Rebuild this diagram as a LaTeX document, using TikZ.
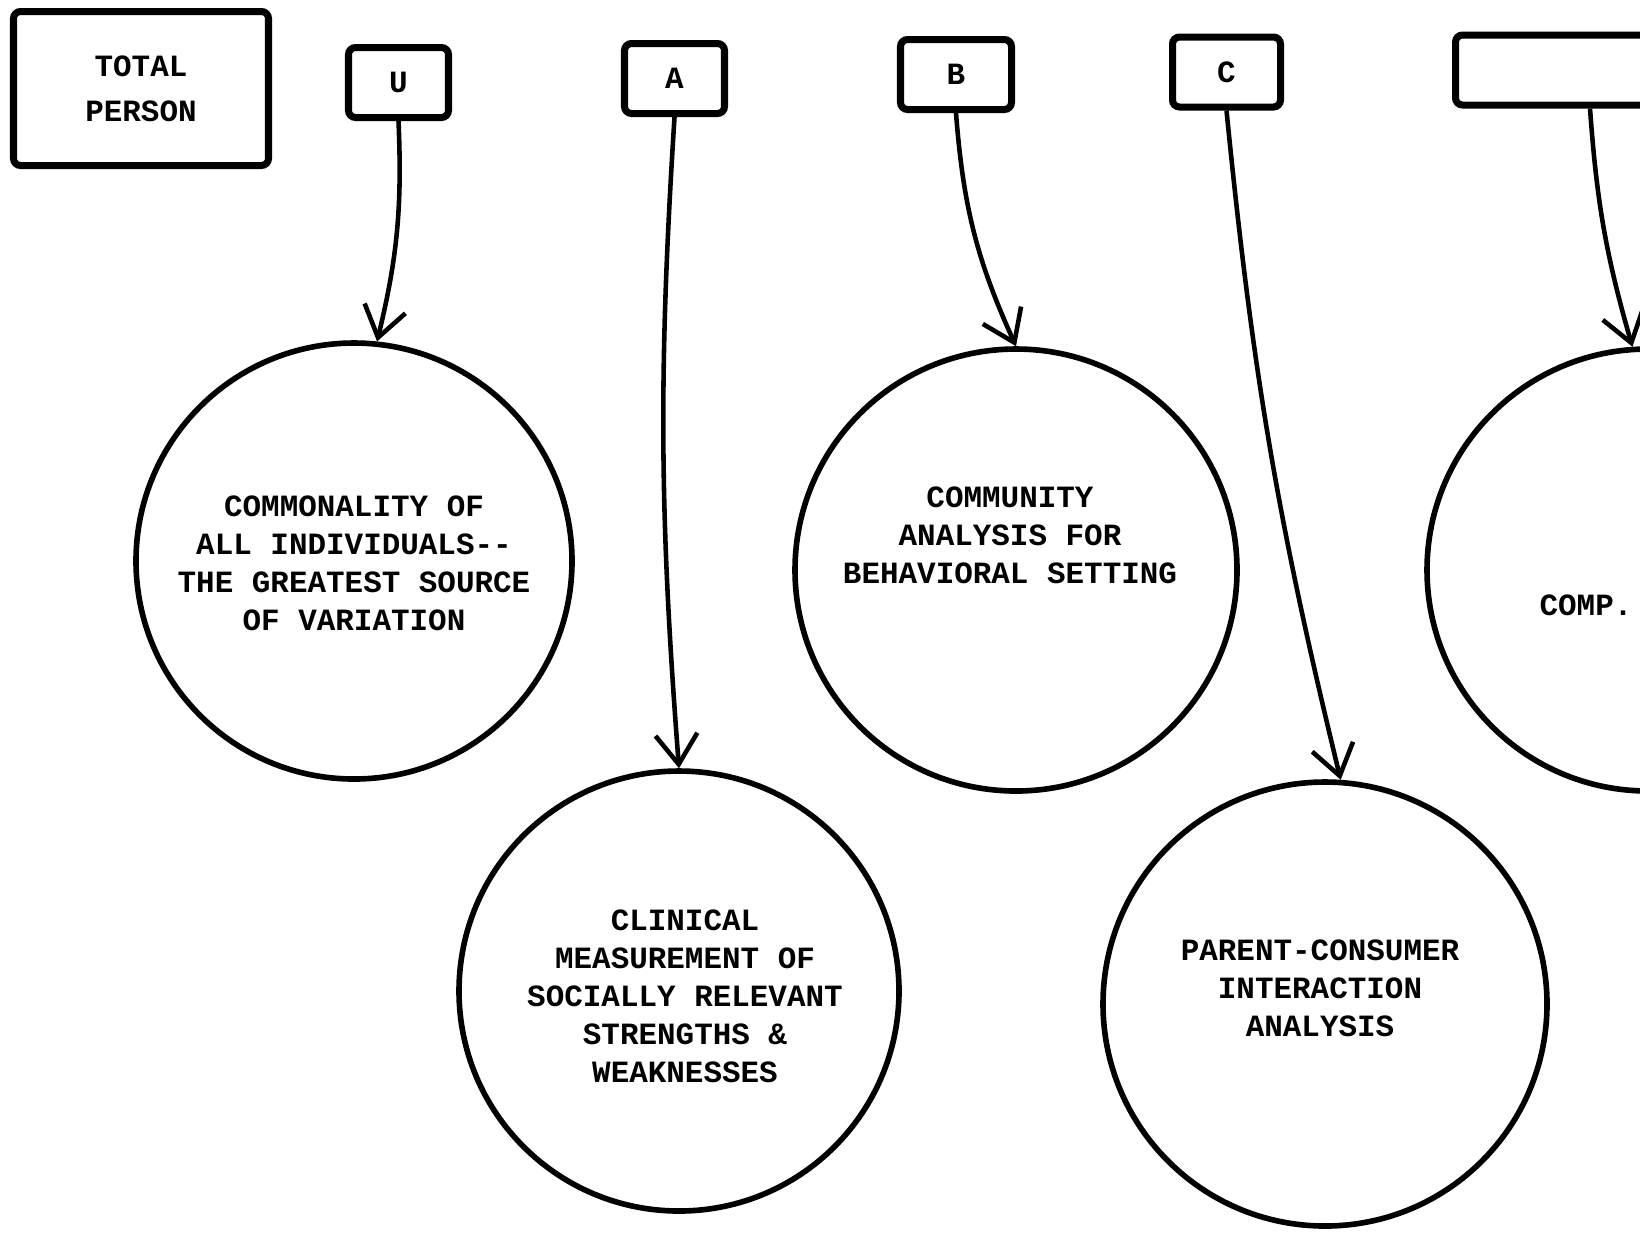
\documentclass[tikz,border=0pt]{standalone}
\usepackage{fontspec}
\newfontfamily\typefont{Liberation Mono}
\usetikzlibrary{arrows.meta}

\begin{document}
\begin{tikzpicture}[
		labelbox/.style={draw, line width=2pt, rounded corners=2pt, inner sep=0pt, minimum height=0.70cm, font=\typefont\bfseries\fontsize{8.8}{10.8}\selectfont, align=center},
		topic/.style={draw, circle, line width=1.6pt, inner sep=0pt},
		memo/.style={font=\typefont\bfseries\fontsize{8.8}{10.8}\selectfont, align=center, inner sep=0pt},
		feed/.style={line width=1.3pt, -{Straight Barb[length=3mm,width=4.2mm]}}
	]
			%%%%% START %%%%%
			
			\useasboundingbox (0, 0) rectangle (16.4, -12.34);
			\clip (0, 0) rectangle (16.4, -12.34);
			
			\node[labelbox, minimum width=2.55cm, minimum height=1.54cm] (total) at (1.41, -0.885) {TOTAL\\[2pt]PERSON};
			
			\node[labelbox, minimum width=1.00cm] (U) at (3.985, -0.825) {U};
			\node[labelbox, minimum width=1.00cm] (A) at (6.745, -0.785) {A};
			\node[labelbox, minimum width=1.11cm] (B) at (9.56, -0.745) {B};
			\node[labelbox, minimum width=1.08cm] (C) at (12.265, -0.72) {C};
			\node[labelbox, minimum width=2.69cm] (R) at (15.90, -0.70) {};
			
			\node[topic, minimum size=4.36cm] (c1) at (3.54, -5.61) {};
			\node[topic, minimum size=4.40cm] (c2) at (6.79, -9.91) {};
			\node[topic, minimum size=4.42cm] (c3) at (10.16, -5.70) {};
			\node[topic, minimum size=4.44cm] (c4) at (13.25, -10.04) {};
			\node[topic, minimum size=4.42cm] (c5) at (16.48, -5.70) {};
			
			\node[memo] (t1) at (3.54, -5.63) {COMMONALITY OF\\ALL INDIVIDUALS--\\THE GREATEST SOURCE\\OF VARIATION};
			\node[memo] (t2) at (6.85, -9.96) {CLINICAL\\MEASUREMENT OF\\SOCIALLY RELEVANT\\STRENGTHS \&\\WEAKNESSES};
			\node[memo] (t3) at (10.10, -5.35) {COMMUNITY\\ANALYSIS FOR\\BEHAVIORAL SETTING};
			\node[memo] (t4) at (13.20, -9.88) {PARENT-CONSUMER\\INTERACTION\\ANALYSIS};
			\node[memo] (t5) at (15.86, -6.05) {COMP.};
			
			\draw[feed] (U.south) to[bend left=8] (c1.84);
			\draw[feed] (A.south) to[bend right=4] (c2.north);
			\draw[feed] (B.south) to[bend right=10] (c3.north);
			\draw[feed] (C.south) to[bend right=4] (c4.86);
			\draw[feed] (R.south) to[bend right=6] (c5.94);
			
			%%%%% END %%%%%
\end{tikzpicture}
\end{document}
